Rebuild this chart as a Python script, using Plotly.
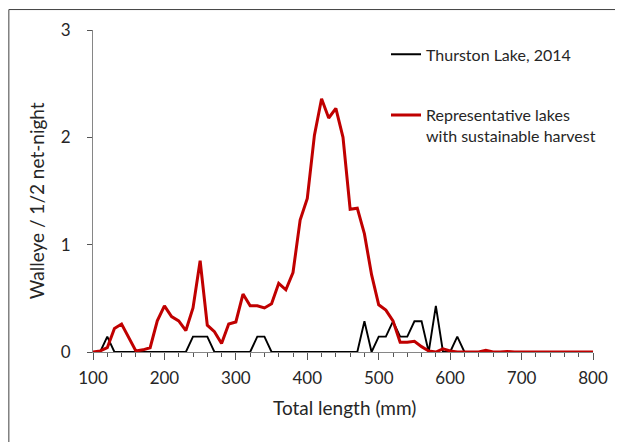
import plotly.graph_objects as go

lengths = [100, 110, 120, 130, 140, 150, 160, 170, 180, 190,
           200, 210, 220, 230, 240, 250, 260, 270, 280, 290,
           300, 310, 320, 330, 340, 350, 360, 370, 380, 390,
           400, 410, 420, 430, 440, 450, 460, 470, 480, 490,
           500, 510, 520, 530, 540, 550, 560, 570, 580, 590,
           600, 610, 620, 630, 640, 650, 660, 670, 680, 690,
           700, 710, 720, 730, 740, 750, 760, 770, 780, 790, 800]

thurston = [0, 0, 0.143, 0, 0, 0, 0, 0, 0, 0,
            0, 0, 0, 0, 0.143, 0.143, 0.143, 0, 0, 0,
            0, 0, 0, 0.143, 0.143, 0, 0, 0, 0, 0,
            0, 0, 0, 0, 0, 0, 0, 0, 0.286, 0,
            0.143, 0.143, 0.286, 0.143, 0.143, 0.286, 0.286, 0, 0.429, 0,
            0, 0.143, 0, 0, 0, 0, 0, 0, 0, 0,
            0, 0, 0, 0, 0, 0, 0, 0, 0, 0, 0]

representative = [0, 0.01, 0.04, 0.22, 0.26, 0.13, 0.01, 0.02, 0.04, 0.29,
                  0.43, 0.33, 0.29, 0.20, 0.41, 0.85, 0.25, 0.19, 0.08, 0.26,
                  0.28, 0.54, 0.43, 0.43, 0.41, 0.45, 0.64, 0.58, 0.74, 1.23,
                  1.43, 2.02, 2.36, 2.18, 2.27, 2.00, 1.33, 1.34, 1.10, 0.72,
                  0.44, 0.39, 0.29, 0.09, 0.09, 0.10, 0.05, 0.01, 0.00, 0.03,
                  0.01, 0.00, 0, 0, 0, 0.015, 0, 0, 0.005, 0,
                  0, 0, 0, 0, 0, 0, 0, 0, 0, 0, 0]

names = ["Thurston Lake, 2014", "Representative lakes<br>with sustainable harvest"]
x_title = "Total length (mm)"
y_title = "Walleye / 1/2 net-night"

FONT = "Lato, 'Open Sans', sans-serif"
TXT = "#262626"
AX = "#868686"

fig = go.Figure()
fig.add_trace(go.Scatter(x=lengths, y=thurston, mode="lines", name=names[0],
                         legendgroup="a",
                         line=dict(color="#000000", width=1.9)))
fig.add_trace(go.Scatter(x=lengths, y=representative, mode="lines", name=names[1],
                         legendgroup="b",
                         line=dict(color="#C00000", width=3)))

fig.update_layout(
    width=623, height=442,
    margin=dict(l=85, r=38, t=21.5, b=97.5),
    paper_bgcolor="white", plot_bgcolor="white",
    font=dict(family=FONT, size=16, color=TXT),
    showlegend=True,
    legend=dict(x=0.586, y=0.977, xanchor="left", yanchor="top",
                bgcolor="rgba(0,0,0,0)", font=dict(size=16, color=TXT),
                traceorder="grouped", tracegroupgap=37, valign="top",
                itemwidth=30),
    xaxis=dict(range=[100, 800], dtick=100, tick0=100, showgrid=False, zeroline=False,
               showline=True, linecolor=AX, linewidth=1,
               ticks="outside", ticklen=7, tickcolor="#555555",
               minor=dict(dtick=20, ticks="outside", ticklen=4, tickcolor="#555555",
                          showgrid=False),
               ticklabelstandoff=4,
               tickfont=dict(size=17, color=TXT)),
    yaxis=dict(range=[0, 3], dtick=1, showgrid=False, zeroline=False,
               showline=True, linecolor=AX, linewidth=1,
               ticks="outside", ticklen=5, tickcolor="#555555",
               ticklabelstandoff=13,
               tickfont=dict(size=17, color=TXT)),
    annotations=[
        dict(text=y_title, xref="paper", yref="paper",
             x=-0.1123, y=0.4706, textangle=-90, showarrow=False,
             xanchor="center", yanchor="middle",
             font=dict(size=19, color=TXT)),
        dict(text=x_title, xref="paper", yref="paper",
             x=0.502, y=-0.171, showarrow=False,
             xanchor="center", yanchor="middle",
             font=dict(size=19, color=TXT)),
    ],
    shapes=[dict(type="rect", xref="paper", yref="paper",
                 x0=-0.1683, y0=-0.4, x1=1.2, y1=1.0635,
                 line=dict(color="#404040", width=1), layer="below")],
)

fig.write_html("out.html")
